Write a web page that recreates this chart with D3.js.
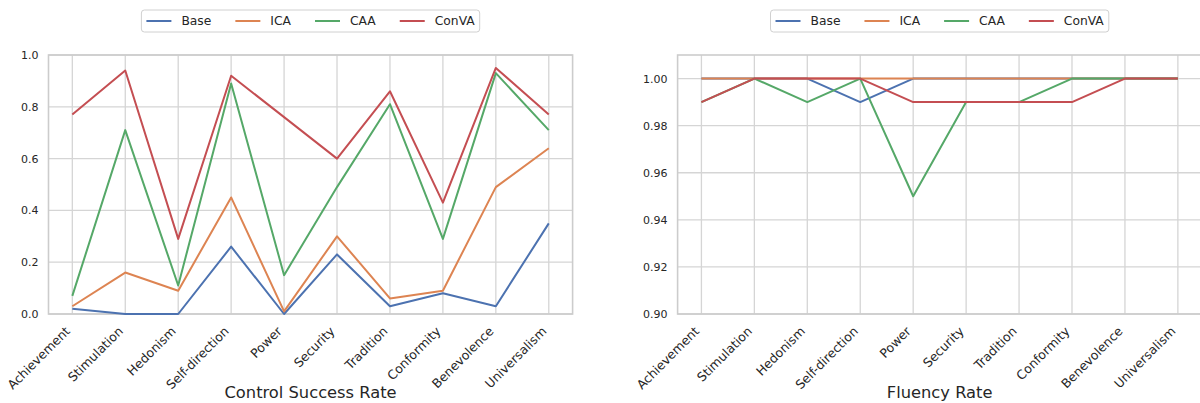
<!DOCTYPE html>
<html>
<head>
<meta charset="utf-8">
<script src="https://cdn.jsdelivr.net/npm/d3@7/dist/d3.min.js"></script>
<style>
  html, body { margin: 0; padding: 0; background: #ffffff; }
  svg { display: block; }
  text { font-family: "DejaVu Sans", sans-serif; fill: #262626; }
</style>
</head>
<body>
<svg id="chart" width="1200" height="403"></svg>
<script>
// Value dimensions on the x axis
const categories = ["Achievement", "Stimulation", "Hedonism", "Self-direction", "Power",
                    "Security", "Tradition", "Conformity", "Benevolence", "Universalism"];

const seriesNames = ["Base", "ICA", "CAA", "ConVA"];
const seriesColors = ["#4C72B0", "#DD8452", "#55A868", "#C44E52"];

// Control success rate per method
const baseSuccess  = [0.02, 0.00, 0.00, 0.26, 0.00, 0.23, 0.03, 0.08, 0.03, 0.35];
const icaSuccess   = [0.03, 0.16, 0.09, 0.45, 0.01, 0.30, 0.06, 0.09, 0.49, 0.64];
const caaSuccess   = [0.07, 0.71, 0.11, 0.89, 0.15, 0.49, 0.81, 0.29, 0.93, 0.71];
const convaSuccess = [0.77, 0.94, 0.29, 0.92, 0.76, 0.60, 0.86, 0.43, 0.95, 0.77];

// Fluency rate per method
const baseFluency  = [1.00, 1.00, 1.00, 0.99, 1.00, 1.00, 1.00, 1.00, 1.00, 1.00];
const icaFluency   = [1.00, 1.00, 1.00, 1.00, 1.00, 1.00, 1.00, 1.00, 1.00, 1.00];
const caaFluency   = [0.99, 1.00, 0.99, 1.00, 0.95, 0.99, 0.99, 1.00, 1.00, 1.00];
const convaFluency = [0.99, 1.00, 1.00, 1.00, 0.99, 0.99, 0.99, 0.99, 1.00, 1.00];

// Tick values for each panel
const successTicks = [0.0, 0.2, 0.4, 0.6, 0.8, 1.0];
const fluencyTicks = [0.90, 0.92, 0.94, 0.96, 0.98, 1.00];

const svg = d3.select("#chart");

const TOP = 55, BOTTOM = 314;
const GRID = "#d5d5d5", SPINE = "#cccccc";

function drawPanel(opts) {
  const { x0, x1, yDomain, ticks, fmt, series, title } = opts;
  const g = svg.append("g");

  const x = d3.scalePoint().domain(categories).range([x0, x1]).padding(0.45);
  const y = d3.scaleLinear().domain(yDomain).range([BOTTOM, TOP]);

  // grid
  g.append("g").selectAll("line.hg").data(ticks).join("line")
    .attr("x1", x0).attr("x2", x1)
    .attr("y1", d => y(d)).attr("y2", d => y(d))
    .attr("stroke", GRID).attr("stroke-width", 1.3);
  g.append("g").selectAll("line.vg").data(categories).join("line")
    .attr("x1", d => x(d)).attr("x2", d => x(d))
    .attr("y1", TOP).attr("y2", BOTTOM)
    .attr("stroke", GRID).attr("stroke-width", 1.3);

  // frame
  g.append("rect").attr("x", x0).attr("y", TOP)
    .attr("width", x1 - x0).attr("height", BOTTOM - TOP)
    .attr("fill", "none").attr("stroke", SPINE).attr("stroke-width", 1.6);

  // y axis
  const yAxis = d3.axisLeft(y).tickValues(ticks).tickFormat(d3.format(fmt))
    .tickSize(0).tickPadding(10);
  const ya = g.append("g").attr("transform", `translate(${x0},0)`).call(yAxis);
  ya.select(".domain").remove();
  ya.selectAll("text").attr("font-size", 11).attr("fill", "#262626")
    .attr("font-family", "DejaVu Sans");

  // x axis with rotated labels
  const xAxis = d3.axisBottom(x).tickSize(0).tickPadding(0);
  const xa = g.append("g").attr("transform", `translate(0,${BOTTOM})`).call(xAxis);
  xa.select(".domain").remove();
  xa.selectAll("text")
    .attr("font-size", 12.5).attr("fill", "#262626").attr("font-family", "DejaVu Sans")
    .attr("text-anchor", "end").attr("dy", null).attr("y", null)
    .attr("transform", "translate(-2,18) rotate(-45)");

  // series lines
  const line = d3.line().x((d, i) => x(categories[i])).y(d => y(d));
  series.forEach((vals, k) => {
    g.append("path").datum(vals)
      .attr("d", line).attr("fill", "none")
      .attr("stroke", seriesColors[k]).attr("stroke-width", 2)
      .attr("stroke-linejoin", "round");
  });

  // axis title
  g.append("text").attr("x", (x0 + x1) / 2).attr("y", 398)
    .attr("text-anchor", "middle").attr("font-size", 16.3).text(title);

  // legend
  const cx = (x0 + x1) / 2;
  const lg = g.append("g");
  const pad = 5, handle = 25, gap = 10, colSpace = 24;
  const items = seriesNames.map((name) => {
    const t = lg.append("text").attr("font-size", 12.3).attr("dominant-baseline", "central").text(name);
    return { t, w: t.node().getComputedTextLength() };
  });
  const total = 2 * pad + items.reduce((s, it) => s + handle + gap + it.w, 0) + colSpace * (items.length - 1);
  const left = cx - total / 2;
  const ly = 21;
  lg.insert("rect", ":first-child")
    .attr("x", left).attr("y", 10).attr("width", total).attr("height", 22)
    .attr("rx", 3).attr("fill", "#ffffff").attr("fill-opacity", 0.8)
    .attr("stroke", "#d0d0d0").attr("stroke-width", 1);
  let cur = left + pad;
  items.forEach((it, k) => {
    lg.append("line").attr("x1", cur).attr("x2", cur + handle)
      .attr("y1", ly).attr("y2", ly)
      .attr("stroke", seriesColors[k]).attr("stroke-width", 2);
    it.t.attr("x", cur + handle + gap).attr("y", ly);
    cur += handle + gap + it.w + colSpace;
  });
}

drawPanel({
  x0: 48.5, x1: 572.6, yDomain: [0, 1.0], ticks: successTicks, fmt: ".1f",
  series: [baseSuccess, icaSuccess, caaSuccess, convaSuccess], title: "Control Success Rate"
});
drawPanel({
  x0: 677.6, x1: 1201.7, yDomain: [0.9, 1.01], ticks: fluencyTicks, fmt: ".2f",
  series: [baseFluency, icaFluency, caaFluency, convaFluency], title: "Fluency Rate"
});
</script>
</body>
</html>
